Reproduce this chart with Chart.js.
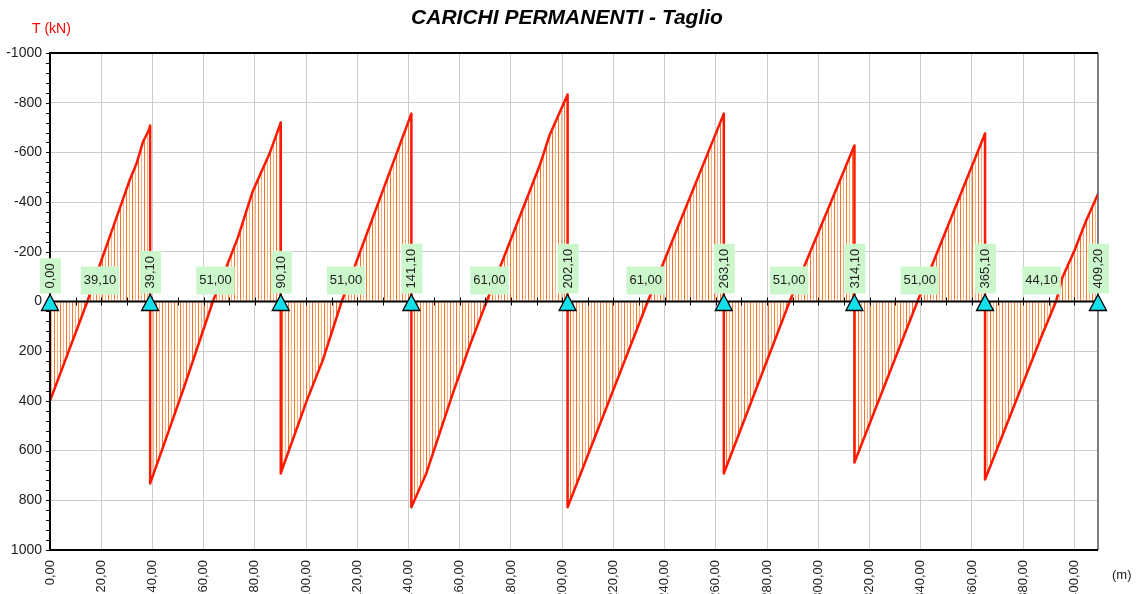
<!DOCTYPE html>
<html><head><meta charset="utf-8">
<script src="https://cdn.jsdelivr.net/npm/chart.js@4.4.1/dist/chart.umd.min.js"></script>
<style>html,body{margin:0;padding:0;background:#fff;overflow:hidden}#wrap{width:1141px;height:594px;position:relative}</style>
</head><body><div id="wrap"><canvas id="c" width="1141" height="594"></canvas></div>
<script>
const chartTitle = 'CARICHI PERMANENTI - Taglio';
const yAxisTitle = 'T (kN)';
const xAxisUnit = '(m)';
const supportPositions = [0, 39.1, 90.1, 141.1, 202.1, 263.1, 314.1, 365.1, 409.2];
const supportLabels = ['0,00','39,10','90,10','141,10','202,10','263,10','314,10','365,10','409,20'];
const spanLabels = ['39,10','51,00','51,00','61,00','61,00','51,00','51,00','44,10'];
// shear diagram (x in m, T in kN)
const shearX = [0, 14.6, 19.1, 29.3, 31.2, 33.8, 36.4, 38.4, 39.1,
  39.1, 44, 52, 63.6, 73.4, 79.2, 85.9, 90.1,
  90.1, 90.9, 100.3, 106.5, 113.9, 141.1,
  141.1, 147, 157.3, 163.9, 170.5, 191.2, 195.1, 202.1,
  202.1, 233.4, 263.1,
  263.1, 288.8, 314.1,
  314.1, 338.7, 365.1,
  365.1, 387, 392.8, 395.3, 400, 404.6, 409.2];
const shearV = [400, 0, -137, -435, -491, -555, -645, -685, -708,
  732, 590, 355, 0, -258, -445, -600, -720,
  692, 668, 398, 237, 0, -756,
  828, 690, 370, 177, 0, -547, -670, -833,
  828, 0, -756,
  692, 0, -628,
  648, 0, -676,
  716, 144, 0, -97, -205, -326, -433];

const FONT = 'Liberation Sans, Arial, Helvetica, sans-serif';
const canvas = document.getElementById('c');
const mainCtx = canvas.getContext('2d');
const pc = document.createElement('canvas'); pc.width = 6; pc.height = 4;
const pctx = pc.getContext('2d');
pctx.fillStyle = '#ff7424'; pctx.fillRect(0, 0, 1, 4);
pctx.fillStyle = '#ffb080'; pctx.fillRect(3, 0, 1, 4);
const hatch = mainCtx.createPattern(pc, 'repeat');

const decor = {
  id: 'decor',
  afterDatasetsDraw(chart) {
    const ctx = chart.ctx, a = chart.chartArea;
    const xs = chart.scales.x, ys = chart.scales.y;
    const y0 = ys.getPixelForValue(0);
    ctx.save();
    // zero line
    ctx.strokeStyle = '#000'; ctx.lineWidth = 2;
    ctx.beginPath(); ctx.moveTo(a.left, y0); ctx.lineTo(a.right, y0); ctx.stroke();
    ctx.lineWidth = 1;
    for (let v = 10; v < 409.2; v += 10) {
      const px = Math.round(xs.getPixelForValue(v)) + 0.5;
      ctx.beginPath(); ctx.moveTo(px, y0 - 4); ctx.lineTo(px, y0 + 4); ctx.stroke();
    }
    // y minor ticks
    for (let v = -1000; v <= 1000; v += 40) {
      const py = Math.round(ys.getPixelForValue(v)) + 0.5;
      ctx.beginPath(); ctx.moveTo(a.left - 4, py); ctx.lineTo(a.left, py); ctx.stroke();
    }
    // border
    ctx.strokeStyle = '#555'; ctx.lineWidth = 1.5;
    ctx.beginPath(); ctx.moveTo(a.right, a.top); ctx.lineTo(a.right, a.bottom); ctx.stroke();
    ctx.strokeStyle = '#000'; ctx.lineWidth = 2;
    ctx.beginPath(); ctx.moveTo(a.right, a.top); ctx.lineTo(a.left, a.top); ctx.lineTo(a.left, a.bottom); ctx.lineTo(a.right, a.bottom); ctx.stroke();
    // labels
    ctx.font = '13px ' + FONT;
    ctx.textBaseline = 'middle'; ctx.textAlign = 'center';
    spanLabels.forEach((t, i) => {
      const mid = (supportPositions[i] + supportPositions[i + 1]) / 2;
      const px = xs.getPixelForValue(mid);
      const w = ctx.measureText(t).width + 6;
      ctx.fillStyle = '#ccf7cc';
      ctx.fillRect(px - w / 2, y0 - 35, w, 28);
      ctx.fillStyle = '#222';
      ctx.fillText(t, px, y0 - 21);
    });
    supportLabels.forEach((t, i) => {
      const px = xs.getPixelForValue(supportPositions[i]);
      const w = ctx.measureText(t).width;
      const h = w + 10, bottom = y0 - 8;
      ctx.fillStyle = '#ccf7cc';
      ctx.fillRect(px - 10, bottom - h, 21, h);
      ctx.save();
      ctx.translate(px + 0.5, bottom - h / 2);
      ctx.rotate(-Math.PI / 2);
      ctx.fillStyle = '#222';
      ctx.fillText(t, 0, 0);
      ctx.restore();
    });
    // support triangles
    supportPositions.forEach(p => {
      const px = xs.getPixelForValue(p);
      ctx.beginPath();
      ctx.moveTo(px, y0 - 7); ctx.lineTo(px + 8.5, y0 + 9); ctx.lineTo(px - 8.5, y0 + 9); ctx.closePath();
      ctx.fillStyle = '#14e0ec'; ctx.fill();
      ctx.strokeStyle = '#000'; ctx.lineWidth = 1.3; ctx.stroke();
    });
    // titles
    ctx.fillStyle = '#000'; ctx.textAlign = 'center';
    ctx.font = 'bold italic 21px ' + FONT;
    ctx.fillText(chartTitle, 567, 18);
    ctx.fillStyle = '#ff0000'; ctx.textAlign = 'left';
    ctx.font = '14px ' + FONT;
    ctx.fillText(yAxisTitle, 32, 29);
    ctx.fillStyle = '#222'; ctx.font = '13px ' + FONT;
    ctx.fillText(xAxisUnit, 1112, 575);
    ctx.restore();
  }
};

new Chart(canvas, {
  type: 'line',
  data: {
    datasets: [{
      data: shearX.map((x, i) => ({ x: x, y: shearV[i] })),
      borderColor: '#ff1800', borderWidth: 2.5, borderJoinStyle: 'round', borderCapStyle: 'round',
      pointRadius: 0, tension: 0,
      fill: 'origin', backgroundColor: hatch
    }]
  },
  options: {
    responsive: false, animation: false,
    layout: { padding: { top: 53, right: 43, left: 0, bottom: 0 } },
    plugins: { legend: { display: false }, tooltip: { enabled: false } },
    scales: {
      x: {
        type: 'linear', min: 0, max: 409.2,
        afterBuildTicks: s => { s.ticks = s.ticks.filter(t => Math.abs(t.value / 20 - Math.round(t.value / 20)) < 1e-6); },
        afterFit: s => { s.height = 44; },
        ticks: { stepSize: 20, minRotation: 90, maxRotation: 90, autoSkip: false, padding: 10, color: '#222',
          font: { family: FONT, size: 13 }, callback: v => Number(v).toFixed(2).replace('.', ',') },
        grid: { color: '#cccccc', lineWidth: 1, drawTicks: false },
        border: { display: false }
      },
      y: {
        min: -1000, max: 1000, reverse: true,
        afterFit: s => { s.width = 50; },
        ticks: { stepSize: 200, padding: 8, color: '#222', font: { family: FONT, size: 14 },
          callback: v => String(v) },
        grid: { color: '#cccccc', lineWidth: 1, drawTicks: false },
        border: { display: false }
      }
    }
  },
  plugins: [decor]
});
</script></body></html>
